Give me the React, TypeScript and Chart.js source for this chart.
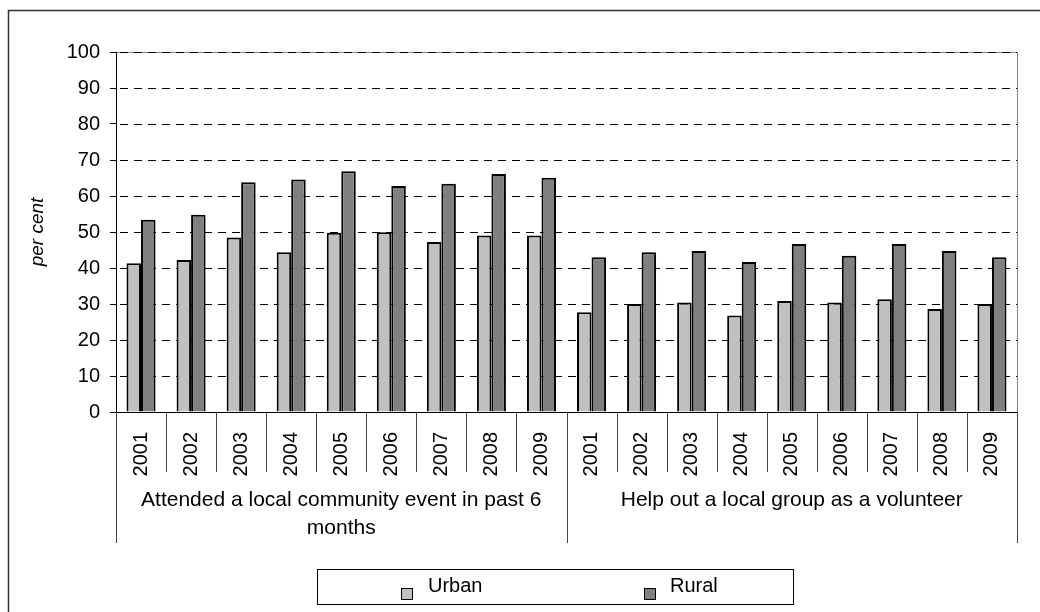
import React, { useEffect, useRef } from 'react';
import { Chart, registerables } from 'chart.js';

Chart.register(...registerables);

const years = ['2001', '2002', '2003', '2004', '2005', '2006', '2007', '2008', '2009'];
const categories = [...years, ...years];
const groupLabelLines = [
  ['Attended a local community event in past 6', 'months'],
  ['Help out a local group as a volunteer'],
];
const seriesNames = ['Urban', 'Rural'];
const seriesColors = ['#C0C0C0', '#808080'];
const urbanEvent = [41.3, 42.2, 48.5, 44.4, 49.8, 49.9, 47.2, 49.0, 49.0];
const ruralEvent = [53.4, 54.8, 63.8, 64.6, 66.9, 62.8, 63.4, 66.1, 65.1];
const urbanVolunteer = [27.7, 30.0, 30.4, 26.8, 30.8, 30.4, 31.3, 28.6, 30.0];
const ruralVolunteer = [43.0, 44.4, 44.7, 41.7, 46.7, 43.4, 46.7, 44.7, 43.0];
const yMin = 0;
const yMax = 100;
const yStep = 10;
const yTitle = 'per cent';

const FONT = "'Liberation Sans', Arial, sans-serif";

const decorPlugin = {
  id: 'decor',
  beforeDraw(chart: any) {
    const { ctx, chartArea } = chart;
    ctx.save();
    // outer frame
    ctx.strokeStyle = '#333';
    ctx.lineWidth = 1.5;
    ctx.beginPath();
    ctx.moveTo(8.5, 620);
    ctx.lineTo(8.5, 10.5);
    ctx.lineTo(1045, 10.5);
    ctx.stroke();
    // plot area top/right border (gray)
    ctx.strokeStyle = '#808080';
    ctx.lineWidth = 1;
    ctx.beginPath();
    ctx.moveTo(chartArea.left, Math.round(chartArea.top) + 0.5);
    ctx.lineTo(Math.round(chartArea.right) + 0.5, Math.round(chartArea.top) + 0.5);
    ctx.lineTo(Math.round(chartArea.right) + 0.5, chartArea.bottom);
    ctx.stroke();
    ctx.restore();
  },
  beforeDatasetsDraw(chart: any) {
    const { ctx, chartArea } = chart;
    const ys = chart.scales.y;
    ctx.save();
    ctx.strokeStyle = '#000';
    ctx.lineWidth = 1;
    ctx.setLineDash([8, 6]);
    ys.ticks.forEach((t: any) => {
      if (t.value === yMin) return;
      const y = Math.round(ys.getPixelForValue(t.value)) + 0.5;
      ctx.beginPath();
      ctx.moveTo(chartArea.left + 4, y);
      ctx.lineTo(chartArea.right, y);
      ctx.stroke();
    });
    ctx.restore();
  },
  afterDraw(chart: any) {
    const { ctx, chartArea } = chart;
    const xs = chart.scales.x;
    const n = categories.length;
    const bottom = chartArea.bottom;
    const boundary = (i: number) => {
      if (i <= 0) return chartArea.left;
      if (i >= n) return chartArea.right;
      return (xs.getPixelForValue(i - 1) + xs.getPixelForValue(i)) / 2;
    };
    ctx.save();
    ctx.strokeStyle = '#444';
    ctx.lineWidth = 1;
    for (let i = 0; i <= n; i++) {
      const x = Math.round(boundary(i)) + 0.5;
      const isGroup = i % years.length === 0;
      ctx.beginPath();
      ctx.moveTo(x, bottom);
      ctx.lineTo(x, bottom + (isGroup ? 131 : 60));
      ctx.stroke();
    }
    // group labels
    ctx.fillStyle = '#000';
    ctx.font = `21px ${FONT}`;
    ctx.textAlign = 'center';
    ctx.textBaseline = 'middle';
    groupLabelLines.forEach((lines, g) => {
      const cx = (boundary(g * years.length) + boundary((g + 1) * years.length)) / 2;
      lines.forEach((line, li) => {
        ctx.fillText(line, cx, bottom + 88 + li * 28);
      });
    });
    // legend
    ctx.strokeStyle = '#000';
    ctx.lineWidth = 1;
    ctx.strokeRect(317.5, 569.5, 476, 35);
    const markerX = [401, 644];
    const textX = [428, 670];
    chart.data.datasets.forEach((ds: any, i: number) => {
      ctx.fillStyle = ds.backgroundColor;
      ctx.fillRect(markerX[i] + 0.5, 588.5, 11, 11);
      ctx.strokeStyle = '#000';
      ctx.strokeRect(markerX[i] + 0.5, 588.5, 11, 11);
      ctx.fillStyle = '#000';
      ctx.font = `20px ${FONT}`;
      ctx.textAlign = 'left';
      ctx.textBaseline = 'alphabetic';
      ctx.fillText(ds.label, textX[i], 592);
    });
    ctx.restore();
  },
};

export default function App() {
  const ref = useRef<HTMLCanvasElement | null>(null);
  useEffect(() => {
    if (!ref.current) return;
    const chart = new Chart(ref.current, {
      type: 'bar',
      data: {
        labels: categories,
        datasets: [
          {
            label: seriesNames[0],
            data: [...urbanEvent, ...urbanVolunteer],
            backgroundColor: seriesColors[0],
            borderColor: '#000',
            borderWidth: 2,
            categoryPercentage: 0.58,
            barPercentage: 1,
          },
          {
            label: seriesNames[1],
            data: [...ruralEvent, ...ruralVolunteer],
            backgroundColor: seriesColors[1],
            borderColor: '#000',
            borderWidth: 2,
            categoryPercentage: 0.58,
            barPercentage: 1,
          },
        ],
      },
      options: {
        responsive: false,
        animation: false,
        devicePixelRatio: 1,
        layout: { padding: { left: 20, right: 23, top: 52, bottom: 0 } },
        plugins: {
          legend: { display: false },
          tooltip: { enabled: false },
        },
        scales: {
          x: {
            type: 'category',
            offset: true,
            grid: { display: false, drawTicks: false },
            border: { display: true, color: '#000', width: 1 },
            ticks: {
              autoSkip: false,
              minRotation: 90,
              maxRotation: 90,
              padding: 20,
              color: '#000',
              font: { family: FONT, size: 20 },
            },
            afterFit(scale: any) {
              scale.height = 200;
            },
          },
          y: {
            min: yMin,
            max: yMax,
            ticks: {
              stepSize: yStep,
              padding: 10,
              color: '#000',
              font: { family: FONT, size: 20 },
            },
            grid: {
              drawOnChartArea: false,
              color: '#000',
              lineWidth: 1,
              tickColor: '#000',
              tickLength: 6,
              drawTicks: true,
            },
            border: { display: true, color: '#000', width: 1 },
            title: {
              display: true,
              text: yTitle,
              color: '#000',
              padding: { top: 6, bottom: 0 },
              font: { family: FONT, size: 19, style: 'italic' },
            },
            afterFit(scale: any) {
              scale.width = 96;
            },
          },
        },
      },
      plugins: [decorPlugin],
    } as any);
    return () => chart.destroy();
  }, []);
  return (
    <div style={{ position: 'absolute', left: 0, top: 0, width: 1040, height: 612, background: '#fff' }}>
      <canvas ref={ref} width={1040} height={612} style={{ display: 'block' }} />
    </div>
  );
}
